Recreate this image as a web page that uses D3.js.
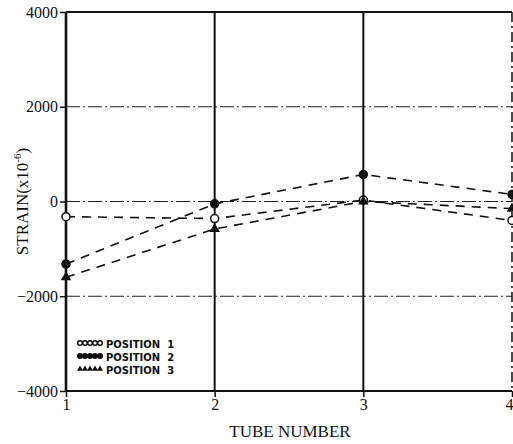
<!DOCTYPE html>
<html>
<head>
<meta charset="utf-8">
<script src="https://cdn.jsdelivr.net/npm/d3@7"></script>
<style>
  body { margin: 0; background: #fff; }
  svg { display: block; }
  text { font-family: "Liberation Serif", "DejaVu Serif", serif; fill: #111; }
  text.legend { font-family: "DejaVu Sans", sans-serif; font-weight: bold; }
</style>
</head>
<body>
<div id="chart"></div>
<script>
// tube numbers and strain readings (x10^-6)
let tubes = [1, 2, 3, 4]
let position1 = [-320, -360, 30, -400]
let position2 = [-1320, -50, 570, 150]
let position3 = [-1600, -580, 0, -150]
let yTicks = [4000, 2000, 0, -2000, -4000]
let legendLabels = ["POSITION  1", "POSITION  2", "POSITION  3"]

let width = 513, height = 444
let margin = ({top: 12, right: 1, bottom: 53, left: 66})

let svg = d3.select("#chart").append("svg")
    .attr("width", width)
    .attr("height", height)

let x = d3.scaleLinear()
    .domain([1, 4])
    .range([margin.left, width - margin.right])

let y = d3.scaleLinear()
    .domain([-4000, 4000])
    .range([height - margin.bottom, margin.top])

// horizontal grid (dash-dot) at the inner ticks
svg.append("g")
    .selectAll("line")
    .data(yTicks.filter(d => Math.abs(d) < 4000))
    .join("line")
    .attr("x1", x(1)).attr("x2", x(4))
    .attr("y1", d => y(d)).attr("y2", d => y(d))
    .attr("stroke", "#222")
    .attr("stroke-width", 1.2)
    .attr("stroke-dasharray", "14,3,2,3")

// top and bottom frame lines
svg.append("g")
    .selectAll("line")
    .data([4000, -4000])
    .join("line")
    .attr("x1", x(1)).attr("x2", x(4))
    .attr("y1", d => y(d)).attr("y2", d => y(d))
    .attr("stroke", "#111")
    .attr("stroke-width", 1.8)

// vertical lines at tubes
svg.append("g")
    .selectAll("line")
    .data(tubes)
    .join("line")
    .attr("x1", d => x(d)).attr("x2", d => x(d))
    .attr("y1", y(4000)).attr("y2", y(-4000))
    .attr("stroke", "#111")
    .attr("stroke-width", d => d === 1 ? 2.6 : d === 4 ? 1.5 : 2)
    .attr("stroke-dasharray", d => d === 4 ? "10,4,2,4" : null)

// y axis
let yAxis = g => g
    .attr("transform", `translate(${margin.left},0)`)
    .call(d3.axisLeft(y)
        .tickValues(yTicks)
        .tickFormat(d => d < 0 ? "\u2212" + Math.abs(d) : d)
        .tickSize(6)
        .tickPadding(2))
    .call(g => g.select(".domain").remove())
    .call(g => g.selectAll(".tick line").attr("stroke", "#111").attr("stroke-width", 1.5))
    .call(g => g.selectAll(".tick text").attr("font-size", 16))

svg.append("g").call(yAxis)

// x axis
let xAxis = g => g
    .attr("transform", `translate(0,${height - margin.bottom})`)
    .call(d3.axisBottom(x)
        .tickValues(tubes)
        .tickFormat(d3.format("d"))
        .tickSize(6)
        .tickPadding(2))
    .call(g => g.select(".domain").remove())
    .call(g => g.selectAll(".tick line").attr("stroke", "#111").attr("stroke-width", 1.5))
    .call(g => g.selectAll(".tick text").attr("font-size", 16)
        .attr("text-anchor", d => d === 4 ? "end" : "middle")
        .attr("dx", d => d === 4 ? 1 : 0))

svg.append("g").call(xAxis)

svg.append("text")
    .attr("x", 290)
    .attr("y", 437)
    .attr("text-anchor", "middle")
    .attr("font-size", 17)
    .text("TUBE NUMBER")

let yTitle = svg.append("text")
    .attr("transform", `translate(28,${y(0)}) rotate(-90)`)
    .attr("text-anchor", "middle")
    .attr("font-size", 17)
yTitle.append("tspan").text("STRAIN(x10")
yTitle.append("tspan").attr("dy", -7).attr("font-size", 11).text("-6")
yTitle.append("tspan").attr("dy", 7).text(")")

// series lines
let seriesList = [
    {values: position1, marker: "open"},
    {values: position2, marker: "filled"},
    {values: position3, marker: "triangle"}
]

let line = d3.line()
    .x((d, i) => x(tubes[i]))
    .y(d => y(d))

svg.append("g")
    .selectAll("path")
    .data(seriesList)
    .join("path")
    .attr("d", d => line(d.values))
    .attr("fill", "none")
    .attr("stroke", "#111")
    .attr("stroke-width", 1.6)
    .attr("stroke-dasharray", "9,7")

function drawMarker(g, kind, cx, cy, r) {
    if (kind === "triangle") {
        g.append("path")
            .attr("d", d3.symbol().type(d3.symbolTriangle).size(r * r * 3))
            .attr("transform", `translate(${cx},${cy})`)
            .attr("fill", "#111")
    } else {
        g.append("circle")
            .attr("cx", cx).attr("cy", cy).attr("r", r)
            .attr("fill", kind === "open" ? "#fff" : "#111")
            .attr("stroke", "#111")
            .attr("stroke-width", 1.5)
    }
}

let markers = svg.append("g")
seriesList.forEach(s => {
    s.values.forEach((v, i) => drawMarker(markers, s.marker, x(tubes[i]), y(v), 4))
})

// legend
let legend = svg.append("g")
seriesList.forEach((s, k) => {
    let ly = 344 + k * 13
    for (let j = 0; j < 5; j++) {
        drawMarker(legend, s.marker, 80 + j * 5, ly - 1, 2.3)
    }
    legend.append("text")
        .attr("class", "legend")
        .attr("x", 106)
        .attr("y", ly + 4)
        .attr("font-size", 10)
        .style("white-space", "pre")
        .text(legendLabels[k])
})
</script>
</body>
</html>
